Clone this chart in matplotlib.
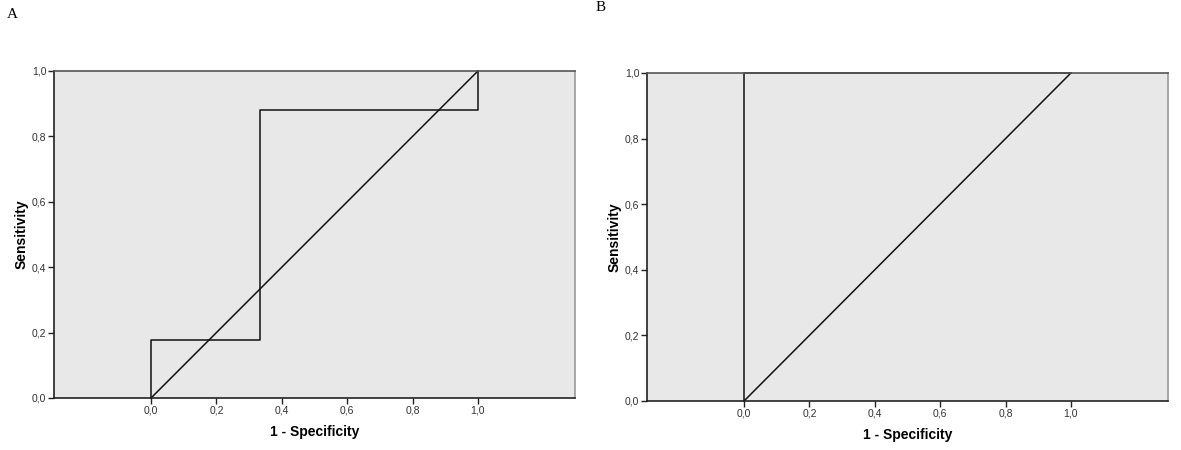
import numpy as np
import matplotlib
matplotlib.use("Agg")
import matplotlib.pyplot as plt

plt.rcParams['font.family'] = ['Liberation Sans', 'DejaVu Sans']

# ROC curve points (1 - specificity, sensitivity)
roc_a_x = [0.0, 0.0, 0.333, 0.333, 1.0, 1.0]
roc_a_y = [0.0, 0.176, 0.176, 0.882, 0.882, 1.0]
roc_b_x = [0.0, 0.0, 1.0]
roc_b_y = [0.0, 1.0, 1.0]
ref_x = [0.0, 1.0]
ref_y = [0.0, 1.0]

ticks = [0.0, 0.2, 0.4, 0.6, 0.8, 1.0]
tick_labels = ["0,0", "0,2", "0,4", "0,6", "0,8", "1,0"]
panel_names = ["A", "B"]

fig = plt.figure(figsize=(11.81, 4.5), dpi=100)
ax_a = fig.add_axes([0.0457, 0.1156, 0.4412, 0.7267])
ax_b = fig.add_axes([0.5478, 0.1089, 0.4412, 0.7289])


def style_axes(ax):
    ax.set_facecolor("#e8e8e8")
    ax.set_xlim(-0.297, 1.297)
    ax.set_ylim(0, 1)
    ax.set_xticks(ticks)
    ax.set_xticklabels(tick_labels)
    ax.set_yticks(ticks)
    ax.set_yticklabels(tick_labels)
    ax.tick_params(direction="out", length=4, width=1, labelsize=7.5, color="#222222", labelcolor="#333333", pad=1.5)
    ax.spines["left"].set_color("#222222")
    ax.spines["bottom"].set_color("#222222")
    ax.spines["top"].set_color("#555555")
    ax.spines["right"].set_color("#999999")
    for s in ax.spines.values():
        s.set_linewidth(1.2)
    ax.set_xlabel("1 - Specificity", fontsize=10, fontweight="bold", labelpad=7)
    ax.set_ylabel("Sensitivity", fontsize=10, fontweight="bold", labelpad=2)


for ax, rx, ry in [(ax_a, roc_a_x, roc_a_y), (ax_b, roc_b_x, roc_b_y)]:
    style_axes(ax)
    ax.plot(rx, ry, color="#111111", lw=1.1, clip_on=False)
    ax.plot(ref_x, ref_y, color="#111111", lw=1.1, clip_on=False)

fig.text(0.006, 0.967, panel_names[0], fontsize=11, family="Liberation Serif", va="center")
fig.text(0.504, 0.983, panel_names[1], fontsize=11, family="Liberation Serif", va="center")

fig.savefig("out.png", dpi=100)
